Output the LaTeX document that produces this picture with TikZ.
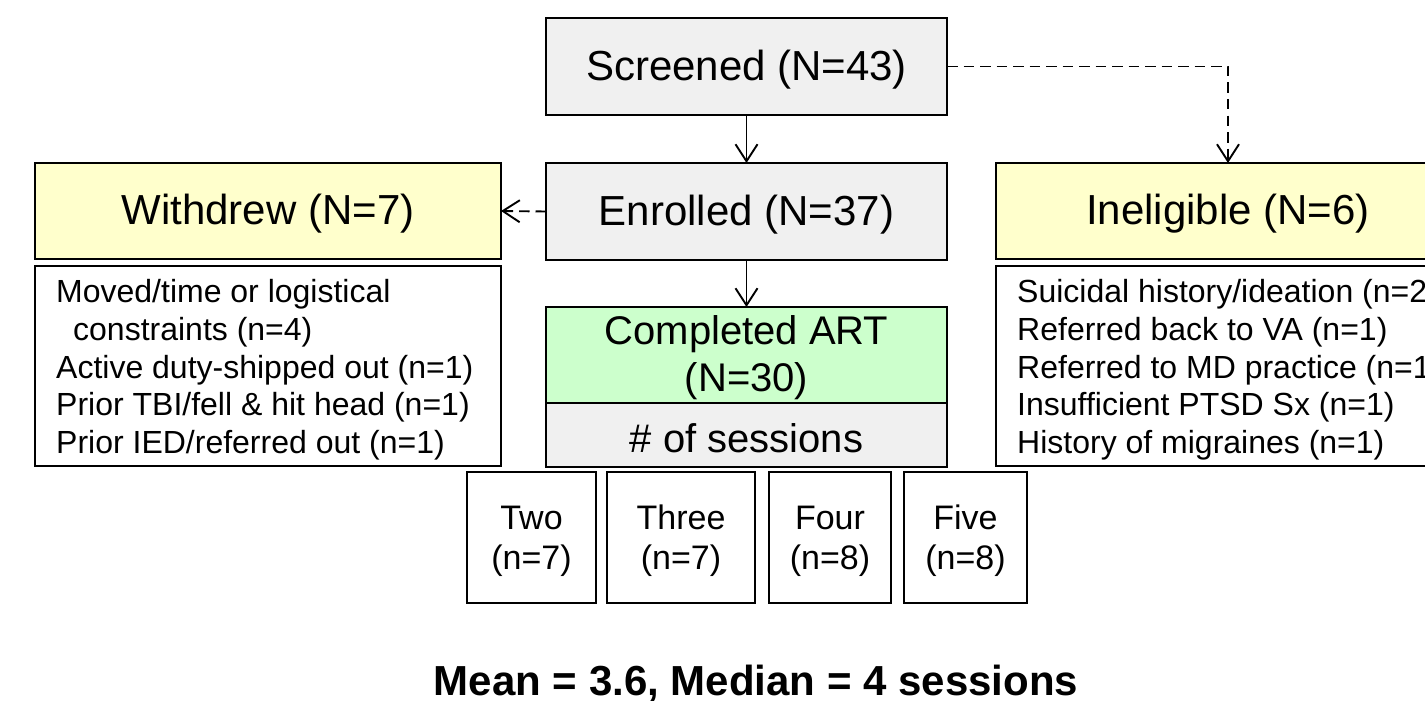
\documentclass[tikz,border=0pt]{standalone}
\usepackage{fontspec}
\setmainfont{Liberation Sans}
\usetikzlibrary{arrows.meta}
\definecolor{bgray}{HTML}{F0F0F0}
\definecolor{byellow}{HTML}{FFFFCC}
\definecolor{bgreen}{HTML}{CCFFCC}
\newcommand{\shiftdown}[2]{\raisebox{-#1}[\height][\depth]{#2}}
\begin{document}
\begin{tikzpicture}[x=1pt,y=-1pt,
  box/.style={draw=black, line width=2.4pt, inner sep=0pt, outer sep=0pt, align=center},
  titlebox/.style={box, font=\fontsize{42}{48}\selectfont},
  graybox/.style={titlebox, fill=bgray, minimum width=401pt, minimum height=97pt},
  yelbox/.style={titlebox, fill=byellow, minimum height=96pt},
  listbox/.style={box, fill=white, minimum height=200pt},
  sessbox/.style={box, fill=white, minimum height=131pt, font=\fontsize{34}{40}\selectfont},
  reason/.style={anchor=base west, inner sep=0pt, font=\fontsize{32}{38}\selectfont},
  conn/.style={line width=1.9pt, -{Straight Barb[length=17pt,width=22pt]}},
  dconn/.style={conn, dash pattern=on 10.5pt off 6pt},
]
\useasboundingbox (0,0) rectangle (1425,701);
\clip (0,0) rectangle (1425,701);

% main column
\node[graybox] (scr) at (746.5,66.5) {\shiftdown{3pt}{Screened (N=43)}};
\node[graybox] (enr) at (746.5,211.5) {\shiftdown{3pt}{Enrolled (N=37)}};

% side titles
\node[yelbox, minimum width=466pt] (wd) at (268,211) {\shiftdown{3pt}{Withdrew (N=7)}};
\node[yelbox, minimum width=464pt] (inel) at (1228,211) {\shiftdown{3pt}{Ineligible (N=6)}};

% reason boxes
\node[listbox, minimum width=466pt] (wdlist) at (268,366) {};
\node[listbox, minimum width=464pt] (inlist) at (1228,366) {};

\node[reason] (w1) at (56,302) {Moved/time or logistical};
\node[reason] (w2) at (73,340) {constraints (n=4)};
\node[reason] (w3) at (56,378) {Active duty-shipped out (n=1)};
\node[reason] (w4) at (56,415.5) {Prior TBI/fell \& hit head (n=1)};
\node[reason] (w5) at (56,453) {Prior IED/referred out (n=1)};

\node[reason] (i1) at (1017,302) {Suicidal history/ideation (n=2)};
\node[reason] (i2) at (1017,340) {Referred back to VA (n=1)};
\node[reason] (i3) at (1017,378) {Referred to MD practice (n=1)};
\node[reason] (i4) at (1017,415.5) {Insufficient PTSD Sx (n=1)};
\node[reason] (i5) at (1017,453) {History of migraines (n=1)};

% completed
\node[box, fill=bgray, minimum width=401pt, minimum height=64pt,
      font=\fontsize{40}{47}\selectfont] (sess) at (746.5,435) {\shiftdown{3pt}{\# of sessions}};
\node[box, fill=bgreen, minimum width=401pt, minimum height=96pt,
      font=\fontsize{40}{47}\selectfont] (art) at (746.5,355)
      {\shiftdown{4pt}{\begin{tabular}{@{}c@{}}Completed ART\\(N=30)\end{tabular}}};

% session counts
\node[sessbox, minimum width=129pt] (two) at (531.5,537.5)
  {\shiftdown{4pt}{\begin{tabular}{@{}c@{}}Two\\(n=7)\end{tabular}}};
\node[sessbox, minimum width=148pt] (three) at (681,537.5)
  {\shiftdown{4pt}{\begin{tabular}{@{}c@{}}Three\\(n=7)\end{tabular}}};
\node[sessbox, minimum width=122pt] (four) at (830,537.5)
  {\shiftdown{4pt}{\begin{tabular}{@{}c@{}}Four\\(n=8)\end{tabular}}};
\node[sessbox, minimum width=123pt] (five) at (965.5,537.5)
  {\shiftdown{4pt}{\begin{tabular}{@{}c@{}}Five\\(n=8)\end{tabular}}};

% summary
\node[anchor=base, inner sep=0pt, font=\fontsize{42}{48}\selectfont\bfseries] (mean) at (756,695)
  {Mean = 3.6, Median = 4 sessions};

% connectors
\draw[conn] (scr.south) -- (enr.north);
\draw[conn] (enr.south) -- (art.north);
\draw[dconn] (scr.east) -| (inel.north);
\draw[dconn] (enr.west) -- (wd.east);
\end{tikzpicture}
\end{document}
